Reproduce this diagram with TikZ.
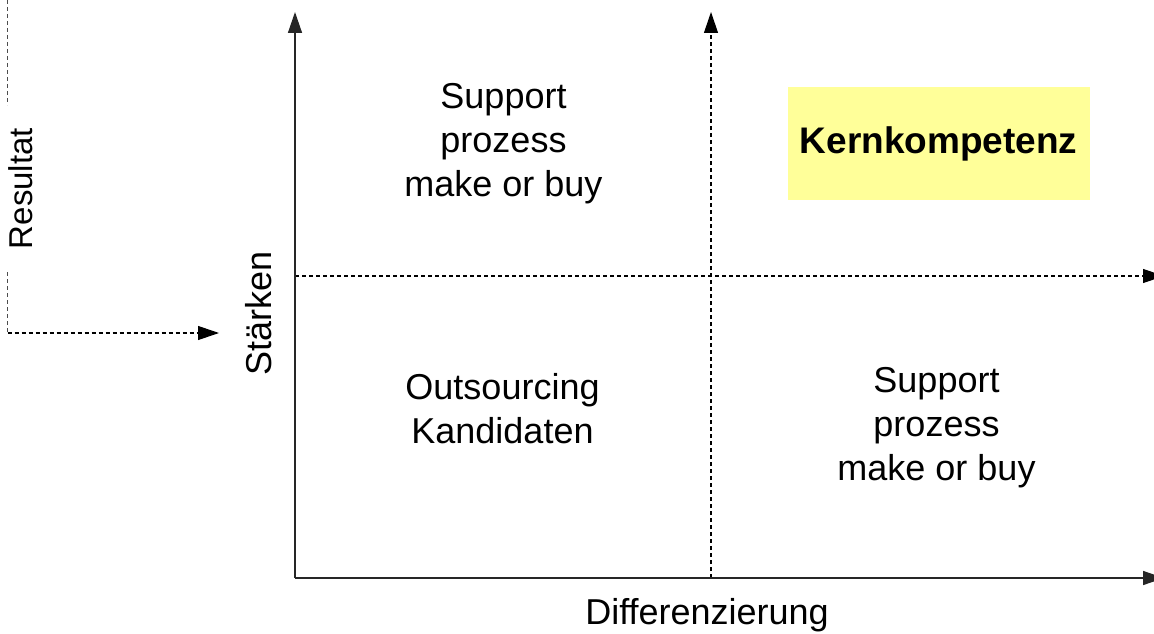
\documentclass[tikz,border=0pt]{standalone}
\usepackage{fontspec}
\setmainfont{Liberation Sans}
\usetikzlibrary{arrows.meta}
\definecolor{kernyellow}{HTML}{FFFF99}
\begin{document}
\begin{tikzpicture}[x=1pt,y=-1pt,
  axis/.style={line width=1.4pt,draw=black!85,-{Triangle[length=21pt,width=14pt]}},
  dashaxis/.style={line width=1.1pt,draw=black,dash pattern=on 4pt off 3pt,-{Triangle[length=21pt,width=14pt]}},
  leftdash/.style={line width=1.2pt,draw=black!70,dash pattern=on 4pt off 3pt},
  lbl/.style={font=\fontsize{36}{44}\selectfont,align=center,inner sep=0pt},
  rotlbl/.style={font=\fontsize{36}{44}\selectfont,inner sep=0pt,rotate=90}]
\useasboundingbox (0,0) rectangle (1154,634);
% axes coordinates
\coordinate (O) at (295,578);
\coordinate (ytop) at (295,12);
\coordinate (xend) at (1164,578);
\coordinate (vbot) at (711,578);
\coordinate (vtop) at (711,12);
\coordinate (hstart) at (295,276);
\coordinate (hend) at (1164,276);
% dashed quadrant lines
\draw[dashaxis] (vbot) -- (vtop);
\draw[dashaxis] (hstart) -- (hend);
% main axes
\draw[axis] (O) -- (ytop);
\draw[axis] (O) -- (xend);
% left Resultat indicator
\node[rotlbl,font=\fontsize{33}{40}\selectfont] (res) at (21,188.5) {Resultat};
\coordinate (l0) at (7.5,0);
\coordinate (l1) at (7.5,105);
\coordinate (l2) at (7.5,272);
\coordinate (l3) at (7.5,333);
\coordinate (larrow) at (219,333);
\draw[leftdash] (l0) -- (l1);
\draw[leftdash] (l2) -- (l3);
\draw[dashaxis] (l3) -- (larrow);
% axis labels
\node[rotlbl] (staerken) at (259,313.5) {Stärken};
\node[lbl] (diff) at (707,615) {Differenzierung};
% quadrant texts
\node[lbl] (ul) at (503.5,144) {Support\\prozess\\make or buy};
\node[lbl] (ll) at (502.5,409) {Outsourcing\\Kandidaten};
\node[lbl] (lr) at (936.5,428) {Support\\prozess\\make or buy};
\node[lbl,fill=kernyellow,minimum width=302pt,minimum height=113pt,font=\fontsize{37}{44}\selectfont\bfseries] (kern) at (938.5,143.5) {Kernkompetenz};
\end{tikzpicture}
\end{document}
